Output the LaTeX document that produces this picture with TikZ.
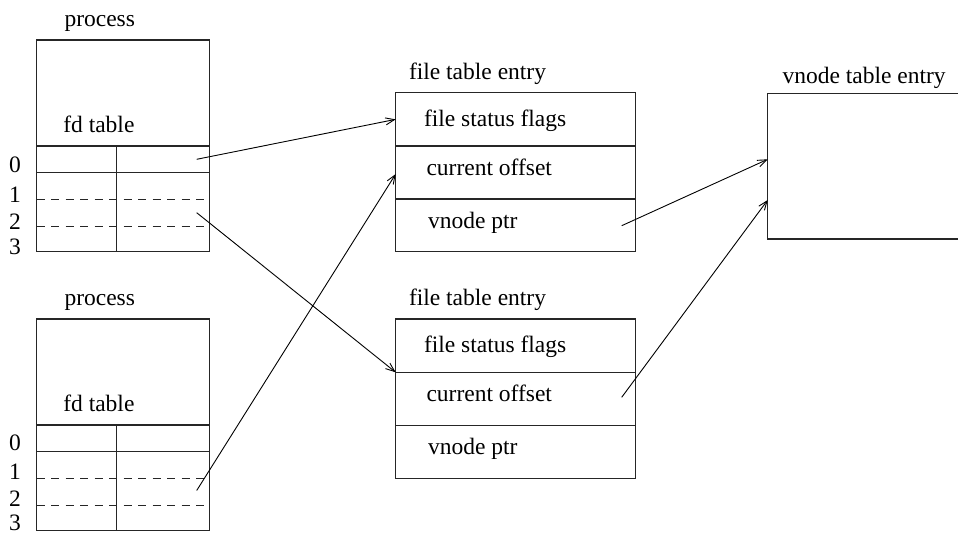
\documentclass[tikz,border=0pt]{standalone}
\usepackage{fontspec}
\setmainfont{Liberation Serif}
\usetikzlibrary{arrows.meta}
\begin{document}
\begin{tikzpicture}[x=1pt,y=-1pt,
  box/.style={draw=black!85, line width=1.1pt, inner sep=0pt, outer sep=0pt, anchor=north west},
  rule/.style={draw=black!85, line width=1.1pt},
  dashrow/.style={draw=black!85, line width=1.4pt, dash pattern=on 8pt off 6.5pt},
  lbl/.style={font=\fontsize{23.5}{27}\selectfont, inner sep=0pt, outer sep=0pt},
  ptr/.style={draw=black, line width=0.9pt, -{Straight Barb[length=9pt,width=7pt]}},
]
\useasboundingbox (0,0) rectangle (958,536);
\clip (0,0) rectangle (958,536);

% process boxes with fd tables
\foreach \n/\T/\da/\db/\dc/\dd in {pA/40/132.3/162.3/189.3/214, pB/319/131.7/160/187/211.5} {
  \node[box, minimum width=172.6pt, minimum height=211.7pt] (\n) at (36.7,\T) {};
  \draw[rule] (36.7,\T+106) -- (209.3,\T+106);
  \draw[rule] (36.7,\T+132.7) -- (209.3,\T+132.7);
  \draw[rule] (116.7,\T+106) -- (116.7,\T+211.7);
  \draw[dashrow] (36.7,\T+159.5) -- (205,\T+159.5);
  \draw[dashrow] (36.7,\T+186.5) -- (205,\T+186.5);
  \node[lbl, anchor=base west] (\n-title) at (64.5,\T-13.3) {process};
  \node[lbl, anchor=base west] (\n-fd) at (63.3,\T+92.3) {fd table};
  \node[lbl, anchor=base] (\n-d0) at (15,\T+\da) {0};
  \node[lbl, anchor=base] (\n-d1) at (15,\T+\db) {1};
  \node[lbl, anchor=base] (\n-d2) at (15,\T+\dc) {2};
  \node[lbl, anchor=base] (\n-d3) at (15,\T+\dd) {3};
}

% file table entries
\foreach \n/\T in {fA/92.7, fB/319} {
  \node[box, minimum width=239.6pt, minimum height=53.3pt] (\n1) at (395.7,\T) {};
  \node[box, minimum width=239.6pt, minimum height=53pt] (\n2) at (395.7,\T+53.3) {};
  \node[box, minimum width=239.6pt, minimum height=52.9pt] (\n3) at (395.7,\T+106.3) {};
  \node[lbl, anchor=base west] (\n-title) at (409,\T-13.4) {file table entry};
  \node[lbl, anchor=base west] (\n-t1) at (424,\T+33.3) {file status flags};
  \node[lbl, anchor=base west] (\n-t2) at (426.5,\T+82.3) {current offset};
  \node[lbl, anchor=base west] (\n-t3) at (428,\T+135.6) {vnode ptr};
}

% vnode table entry
\node[box, minimum width=200pt, minimum height=145.7pt] (vn) at (767.7,93.3) {};
\node[lbl, anchor=base west] (vn-title) at (782.5,83.3) {vnode table entry};

% connector end points
\coordinate (sA0) at (196.7,159.3);
\coordinate (sA2) at (196.7,212.7);
\coordinate (sB1) at (196.7,490.5);
\coordinate (sfA) at (621.7,225.7);
\coordinate (sfB) at (621.7,397.3);
\coordinate (tfA) at (395.7,174);
\coordinate (tvn1) at (767.7,159.3);
\coordinate (tvn2) at (767.7,200);

\draw[ptr] (sA0) -- (fA1.west);
\draw[ptr] (sA2) -- (fB1.south west);
\draw[ptr] (sB1) -- (tfA);
\draw[ptr] (sfA) -- (tvn1);
\draw[ptr] (sfB) -- (tvn2);
\end{tikzpicture}
\end{document}
